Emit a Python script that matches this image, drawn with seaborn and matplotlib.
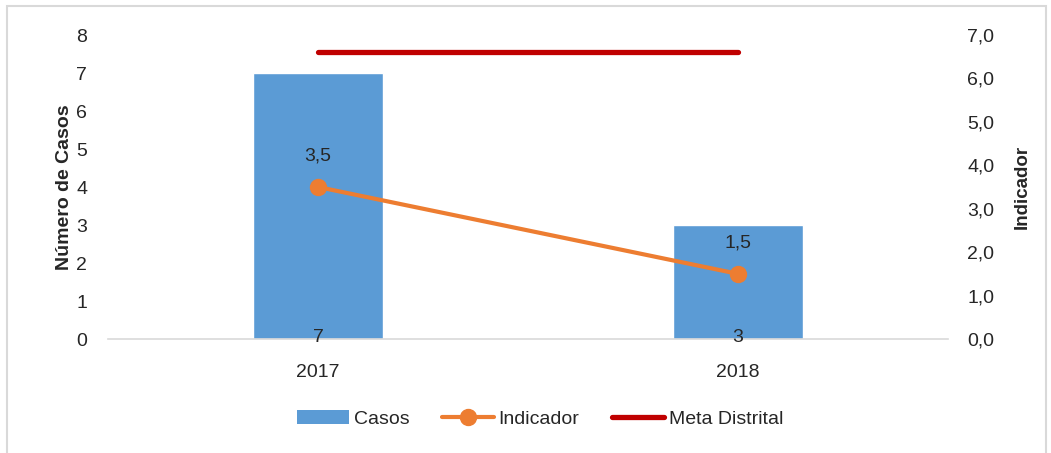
import matplotlib
matplotlib.use("Agg")
import matplotlib.pyplot as plt
import seaborn as sns
import pandas as pd
from matplotlib.patches import Rectangle, Patch
from matplotlib.lines import Line2D

years = ["2017", "2018"]
casos = [7, 3]
indicador = [3.5, 1.5]
meta = [6.6, 6.6]
left_ticks = [0, 1, 2, 3, 4, 5, 6, 7, 8]
right_ticks = [0, 1, 2, 3, 4, 5, 6, 7]

sns.set_theme(style="white")
plt.rcParams["font.family"] = ["Liberation Sans", "DejaVu Sans"]

W, H = 1051, 453
fig = plt.figure(figsize=(W / 100, H / 100), dpi=100)
ax = fig.add_axes([108 / W, (H - 339) / H, (948 - 108) / W, (339 - 35) / H])

df = pd.DataFrame({"year": years, "casos": casos, "ind": indicador, "meta": meta})
BLUE, ORANGE, RED = "#5B9BD5", "#ED7D31", "#C00000"
FS = 14

sns.barplot(data=df, x="year", y="casos", color=BLUE, width=0.31, saturation=1, ax=ax)
ax.set_xlim(-0.5, 1.5)
ax.set_ylim(0, 8)
ax.set_yticks(left_ticks)
ax.set_yticklabels([str(t) for t in left_ticks], fontsize=FS)
ax.set_xlabel("")
ax.set_ylabel("Número de Casos", fontsize=14, fontweight="bold", labelpad=2)
ax.tick_params(axis="x", length=0, labelsize=FS, pad=18)
ax.tick_params(axis="y", length=0, labelsize=FS, pad=15)
for s in ["top", "right", "left"]:
    ax.spines[s].set_visible(False)
ax.spines["bottom"].set_color("#d9d9d9")
ax.spines["bottom"].set_linewidth(1.2)

for i, v in enumerate(casos):
    ax.annotate(str(v), (i, 0), xytext=(0, 1), textcoords="offset points",
                ha="center", va="center", fontsize=FS)

ax2 = ax.twinx()
xs = list(range(len(years)))
ax2.plot(xs, meta, color=RED, lw=3.8, solid_capstyle="round")
ax2.plot(xs, indicador, color=ORANGE, lw=3, marker="o", ms=11.5, solid_capstyle="round")
ax2.set_ylim(0, 7)
ax2.set_yticks(right_ticks)
ax2.set_yticklabels([f"{t:.1f}".replace(".", ",") for t in right_ticks], fontsize=FS)
ax2.tick_params(axis="y", length=0, labelsize=FS, pad=14)
ax2.set_ylabel("Indicador", fontsize=13.5, fontweight="bold", labelpad=14)
for s in ["top", "right", "left", "bottom"]:
    ax2.spines[s].set_visible(False)
ax2.grid(False)
ax.grid(False)

for i, v in enumerate(indicador):
    ax2.annotate(f"{v:.1f}".replace(".", ","), (i, v), xytext=(0, 22), textcoords="offset points",
                 ha="center", va="center", fontsize=FS)

handles = [
    Patch(facecolor=BLUE, edgecolor="none"),
    Line2D([], [], color=ORANGE, lw=3, marker="o", ms=11.5, solid_capstyle="round"),
    Line2D([], [], color=RED, lw=3.8, solid_capstyle="round"),
]
fig.legend(handles, ["Casos", "Indicador", "Meta Distrital"], loc="center",
           bbox_to_anchor=(540 / W, (H - 419) / H), ncol=3, frameon=False, fontsize=FS,
           handlelength=2.67, handletextpad=0.25, columnspacing=1.68, handleheight=0.7)

fig.patches.append(Rectangle((7 / W, -0.01), (1046 - 7) / W, (H - 6) / H + 0.01,
                             transform=fig.transFigure, fill=False, edgecolor="#d9d9d9", lw=1.5))

fig.savefig("out.png", dpi=100, facecolor="white")
